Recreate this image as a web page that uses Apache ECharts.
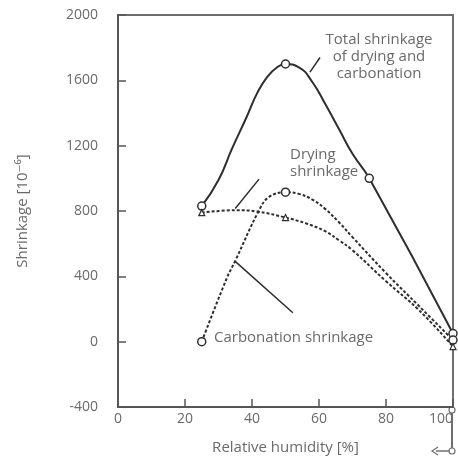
<!DOCTYPE html>
<html>
<head>
<meta charset="utf-8">
<script src="https://cdn.jsdelivr.net/npm/echarts@6/dist/echarts.min.js"></script>
<style>
	html, body { margin: 0; padding: 0; background: #fff; }
	#chart { width: 458px; height: 460px; }
</style>
</head>
<body>
<div id="chart"></div>
<script>
// relative humidity [%] and shrinkage [10^-6]
var totalRH = [25, 30, 34, 38.5, 41.5, 44.5, 47.5, 50, 54, 58, 62, 66, 70, 75, 100];
var totalVal = [830, 990, 1180, 1380, 1520, 1620, 1680, 1700, 1680, 1590, 1450, 1300, 1150, 1000, 50];
var carbRH = [25, 32.5, 35, 42, 45, 50, 54, 58, 62, 66, 70, 80, 90, 100];
var carbVal = [0, 390, 495, 800, 885, 915, 905, 870, 810, 730, 640, 420, 215, 10];
var dryRH = [25, 35, 41.5, 50, 56, 62, 66, 70, 80, 90, 100];
var dryVal = [790, 805, 797, 760, 725, 675, 620, 560, 370, 190, -30];

// which points get a marker
var totalMarks = [25, 50, 75, 100];
var carbMarks = [25, 50, 100];
var dryMarks = [25, 50, 100];

// pointer lines of the annotations, in data coords
var totalPointer = [[57.3, 1650], [60.3, 1740]];
var dryPointer = [[35, 815], [42.1, 995]];
var carbPointer = [[34.9, 493], [52.2, 177]];

var xTicks = [0, 20, 40, 60, 80, 100];
var yTicks = [-400, 0, 400, 800, 1200, 1600, 2000];

var font = '"Open Sans", "DejaVu Sans", sans-serif';
var textColor = '#6a6a6a';
var lineColor = '#2e2e2e';

function pairs(xs, ys) {
	return xs.map(function (x, i) { return [x, ys[i]]; });
}
function markFn(list, sym) {
	return function (v) {
		return list.indexOf(v[0]) >= 0 ? sym : 'none';
	};
}
function pointer(data) {
	return {
		type: 'line',
		data: data,
		symbol: 'none',
		silent: true,
		lineStyle: { color: lineColor, width: 1.5 },
		z: 1
	};
}

var chart = echarts.init(document.getElementById('chart'));
var option = {
	animation: false,
	grid: {
		left: 118,
		right: 5,
		top: 15,
		bottom: 50,
		show: true,
		borderColor: '#6e6e6e',
		borderWidth: 2
	},
	xAxis: {
		type: 'value',
		min: xTicks[0],
		max: xTicks[xTicks.length - 1],
		interval: 20,
		name: 'Relative humidity [%]',
		nameLocation: 'middle',
		nameGap: 33,
		nameTextStyle: { color: textColor, fontSize: 15, fontFamily: font },
		axisLine: { onZero: false, lineStyle: { color: '#555', width: 2 } },
		axisTick: { inside: true, length: 8, lineStyle: { color: '#555', width: 1.5 } },
		axisLabel: {
			color: textColor, fontSize: 14, fontFamily: font, margin: 5,
			alignMaxLabel: 'right'
		},
		splitLine: { show: false }
	},
	yAxis: {
		type: 'value',
		min: yTicks[0],
		max: yTicks[yTicks.length - 1],
		interval: 400,
		name: 'Shrinkage [10\u207B\u2076]',
		nameLocation: 'middle',
		nameGap: 88,
		nameRotate: 90,
		nameTextStyle: { color: textColor, fontSize: 15, fontFamily: font },
		axisLine: { lineStyle: { color: '#555', width: 2 } },
		axisTick: { inside: true, length: 8, lineStyle: { color: '#555', width: 1.5 } },
		axisLabel: {
			color: textColor, fontSize: 14, fontFamily: font, margin: 20,
			formatter: function (v) { return String(v); }
		},
		splitLine: { show: false }
	},
	series: [{
		name: 'Total shrinkage of drying and carbonation',
		type: 'line',
		data: pairs(totalRH, totalVal),
		smooth: 0.5,
		showAllSymbol: true,
		symbol: markFn(totalMarks, 'circle'),
		symbolSize: 8,
		itemStyle: { color: '#fff', borderColor: lineColor, borderWidth: 1.5 },
		lineStyle: { color: lineColor, width: 2 },
		z: 3
	}, {
		name: 'Carbonation shrinkage',
		type: 'line',
		data: pairs(carbRH, carbVal),
		smooth: 0.4,
		showAllSymbol: true,
		symbol: markFn(carbMarks, 'circle'),
		symbolSize: 8,
		itemStyle: { color: '#fff', borderColor: lineColor, borderWidth: 1.5 },
		lineStyle: { color: lineColor, width: 2, type: [3, 2] },
		z: 3
	}, {
		name: 'Drying shrinkage',
		type: 'line',
		data: pairs(dryRH, dryVal),
		smooth: 0.4,
		showAllSymbol: true,
		symbol: markFn(dryMarks, 'triangle'),
		symbolSize: 6,
		itemStyle: { color: '#fff', borderColor: lineColor, borderWidth: 1.2 },
		lineStyle: { color: lineColor, width: 2, type: [3, 2] },
		z: 3
	},
		pointer(totalPointer),
		pointer(dryPointer),
		pointer(carbPointer)
	],
	graphic: [
		// annotations
		{ type: 'text', x: 379, y: 31, style: { text: 'Total shrinkage\nof drying and\ncarbonation', fill: textColor, font: '15px ' + font, align: 'center', lineHeight: 17 } },
		{ type: 'text', x: 290, y: 146, style: { text: 'Drying\nshrinkage', fill: textColor, font: '15px ' + font, lineHeight: 17 } },
		{ type: 'text', x: 214, y: 329, style: { text: 'Carbonation shrinkage', fill: textColor, font: '15px ' + font, lineHeight: 17 } },
		// the little stub under the right border
		{ type: 'line', shape: { x1: 452, y1: 410, x2: 452, y2: 451 }, style: { stroke: '#6e6e6e', lineWidth: 2 } },
		{ type: 'line', shape: { x1: 436, y1: 451, x2: 452, y2: 451 }, style: { stroke: '#6e6e6e', lineWidth: 1.5 } },
		{ type: 'polyline', shape: { points: [[438, 447], [432, 451], [438, 455]] }, style: { stroke: '#6e6e6e', fill: 'none', lineWidth: 1.2 } },
		{ type: 'circle', shape: { cx: 452, cy: 410, r: 3 }, style: { fill: '#fff', stroke: '#6e6e6e', lineWidth: 1.2 } },
		{ type: 'circle', shape: { cx: 452, cy: 451, r: 3 }, style: { fill: '#fff', stroke: '#6e6e6e', lineWidth: 1.2 } }
	]
};
chart.setOption(option);
</script>
</body>
</html>
